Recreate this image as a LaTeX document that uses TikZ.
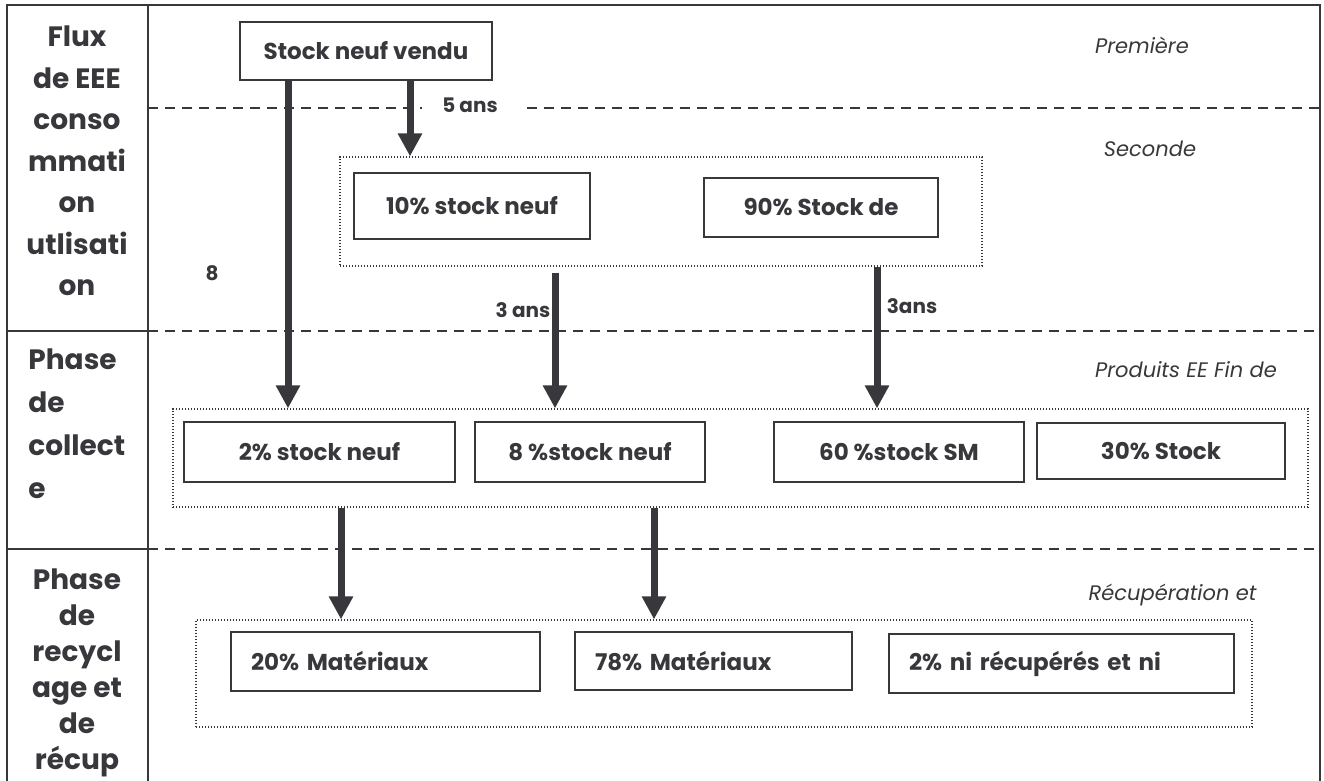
\documentclass[tikz,border=0pt]{standalone}
\usepackage{fontspec}
\setmainfont{Poppins}
\usepackage{xcolor}
\usetikzlibrary{arrows.meta,positioning,calc}
\definecolor{ink}{RGB}{56,56,60}

\begin{document}
\begin{tikzpicture}[
  x=0.5pt, y=-0.5pt,
  head/.style={text=ink, align=center, inner sep=0pt, font=\fontsize{14}{#1}\selectfont\bfseries},
  box/.style={draw=ink, text=ink, line width=1pt, inner sep=0pt, align=center, font=\fontsize{11.5}{13}\selectfont\bfseries},
  leftbox/.style={box, align=left, inner xsep=10pt, text width=#1},
  group/.style={draw=ink, line width=0.6pt, dash pattern=on 0.6pt off 0.9pt, inner sep=0pt},
  phase/.style={text=ink, inner sep=0pt, font=\fontsize{10.5}{12}\selectfont\itshape},
  delay/.style={text=ink, inner sep=0pt, font=\fontsize{10}{12}\selectfont\bfseries},
  frame/.style={draw=ink, line width=1pt},
  sep/.style={draw=ink, line width=0.8pt, dash pattern=on 5pt off 3.5pt},
  flow/.style={-{Triangle[width=11.5pt,length=11.5pt]}, draw=ink, line width=3.5pt}
]
\useasboundingbox (0,0) rectangle (1324,781);

% table frame and phase separators
\draw[frame] (7,781) -- (7,5) -- (1320,5) -- (1320,781);
\draw[frame] (148,5) -- (148,781);
\draw[frame] (7,331) -- (148,331);
\draw[frame] (7,549) -- (148,549);
\draw[sep] (148,108) -- (422,108);
\draw[sep] (527,108) -- (1320,108);
\draw[sep] (148,331) -- (1320,331);
\draw[sep] (148,549) -- (1320,549);

% row headings
\node[head=20.75] (flux) at (77,161) {Flux\\de EEE\\conso\\mmati\\on\\utlisati\\on};
\node[head=21.5, align=left, anchor=west] (collecte) at (28,424) {Phase\\de\\collect\\e};
\node[head=18] (recyclage) at (77,673) {Phase\\de\\recycl\\age et\\de\\récup};

% phase names
\node[phase] (prem) at (1142,45) {Première};
\node[phase] (seconde) at (1150,149) {Seconde};
\node[phase] (fin) at (1186,370) {Produits EE Fin de};
\node[phase] (recup) at (1172.5,595) {Récupération et};

% stocks
\node[box, minimum width=126pt, minimum height=29pt] (vendu) at (366,51) {Stock neuf vendu};

\node[group, minimum width=321pt, minimum height=54.5pt] (sec) at (661,211.5) {};
\node[box, minimum width=118pt, minimum height=33pt] (neuf10) at (472,206) {10\% stock neuf};
\node[box, minimum width=117pt, minimum height=29.5pt] (sm90) at (821,207.5) {90\% Stock de};

\node[group, minimum width=567.5pt, minimum height=49pt] (coll) at (740.5,458) {};
\node[box, minimum width=135.5pt, minimum height=30pt] (neuf2) at (319.5,452) {2\% stock neuf};
\node[box, minimum width=115pt, minimum height=30pt] (neuf8) at (590,452) {8 \%stock neuf};
\node[box, minimum width=125pt, minimum height=30pt] (sm60) at (899,452) {60 \%stock SM};
\node[box, minimum width=124pt, minimum height=28pt] (sm30) at (1161,451) {30\% Stock};

\node[group, minimum width=528pt, minimum height=53.5pt] (recy) at (724,673.5) {};
\node[leftbox=134.5pt, minimum height=29.5pt] (mat20) at (385.5,661.5) {20\% Matériaux};
\node[leftbox=118.5pt, minimum height=29pt] (mat78) at (713.5,661) {78\% Matériaux};
\node[leftbox=152.5pt, minimum height=29.5pt] (rest2) at (1061.5,663.5) {2\% ni récupérés et ni};

% durations
\node[delay] (d5) at (470,105) {5 ans};
\node[delay] (d8) at (212,273) {8};
\node[delay] (d3a) at (523,310) {3 ans};
\node[delay] (d3b) at (912,306) {3ans};

% flows
\coordinate (k1) at (288,0);
\coordinate (k2) at (410,0);
\coordinate (k3) at (555,0);
\coordinate (k4) at (877,0);
\coordinate (k5) at (341,0);
\coordinate (k6) at (654,0);
\draw[flow] (vendu.south -| k1) -- (coll.north -| k1);
\draw[flow] (vendu.south -| k2) -- (sec.north -| k2);
\draw[flow, shorten <=3pt] (sec.south -| k3) -- (coll.north -| k3);
\draw[flow] (sec.south -| k4) -- (coll.north -| k4);
\draw[flow] (coll.south -| k5) -- (recy.north -| k5);
\draw[flow] (coll.south -| k6) -- (recy.north -| k6);
\end{tikzpicture}
\end{document}
